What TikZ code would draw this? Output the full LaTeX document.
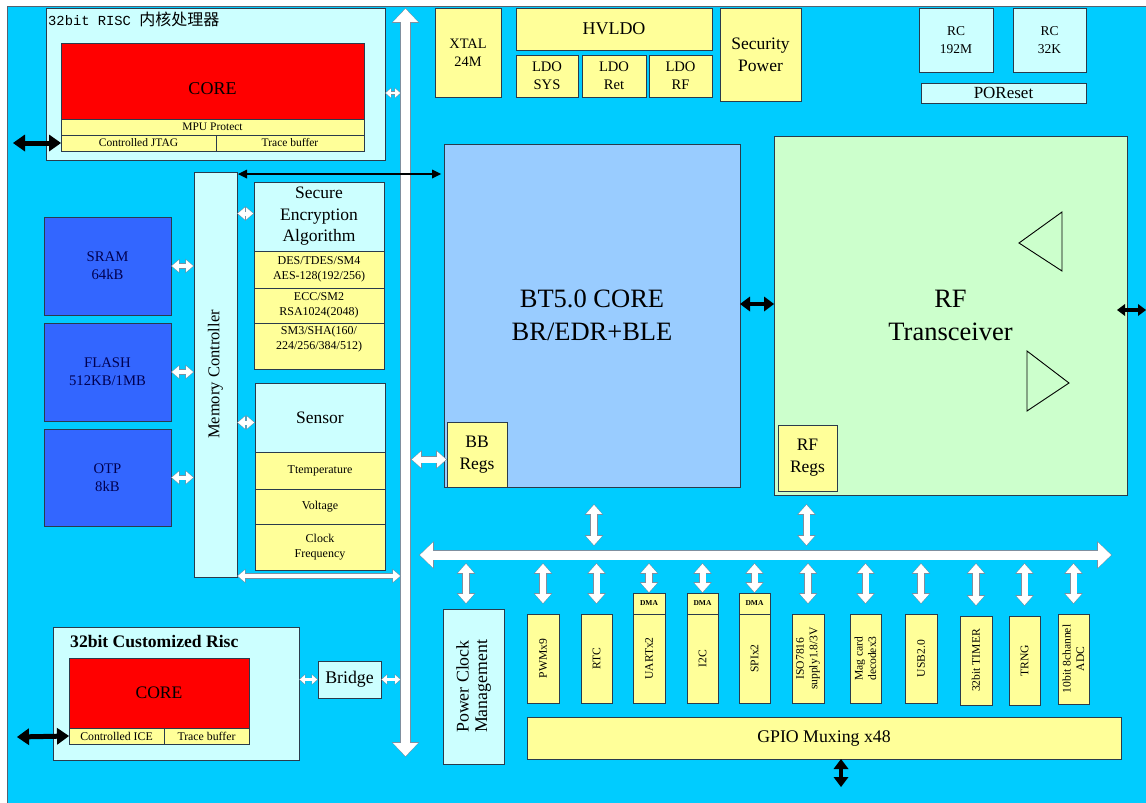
\documentclass[tikz,border=0pt]{standalone}
\usepackage{fontspec}
\setmainfont{Liberation Serif}
\newfontfamily\cjkf{Noto Sans CJK SC}
\newfontfamily\monof{Liberation Mono}
\usetikzlibrary{arrows.meta,calc}
\definecolor{bgc}{HTML}{00CCFF}
\definecolor{lcy}{HTML}{CCFFFF}
\definecolor{yel}{HTML}{FFFF99}
\definecolor{redc}{HTML}{FF0000}
\definecolor{memb}{HTML}{3366FF}
\definecolor{btb}{HTML}{99CCFF}
\definecolor{rfg}{HTML}{CCFFCC}
\definecolor{bord}{HTML}{2A3B4C}
\definecolor{outl}{HTML}{7F8F9F}
\definecolor{navy}{HTML}{000050}
\newcommand\fsz[2]{\rmfamily\fontsize{#1}{#2}\selectfont}
\newcommand\bx[7]{\node[#6, anchor=north west, minimum width={(#4-#2)*1pt}, minimum height={(#5-#3)*1pt}] (#1) at (#2,#3) {#7};}
\newcommand\warr[3]{\draw[#1o] #2 -- #3; \draw[#1] #2 -- #3;}
\newcommand\defwarrow[7]{\tikzset{#1/.style={line width=#2pt, draw=white, shorten <=0.9pt, shorten >=0.9pt, >={Triangle[width=#3pt,length=#4pt,line width=0pt]}, <->},
 #1o/.style={line width=#5pt, draw=outl, >={Triangle[width=#6pt,length=#7pt,line width=0pt]}, <->}}}
\defwarrow{wA}{9}{25}{13}{10.4}{27.4}{14.8}
\defwarrow{wB}{6}{16}{9}{7.4}{18.4}{10.8}
\defwarrow{wC}{4}{12}{7}{5.2}{14.2}{8.6}
\defwarrow{wD}{2.6}{9}{5}{3.6}{11}{6.4}
\tikzset{
 box/.style={draw=bord, line width=0.9pt, inner sep=0pt, outer sep=0pt, align=center, text=black},
 ybox/.style={box, fill=yel, font=\fsz{12}{14.5}},
 mem/.style={box, fill=memb, text=navy, font=\fsz{14.7}{18.3}},
 lab/.style={inner sep=0pt, align=center},
 bA/.style={draw=black, line width=5pt, >={Triangle[width=17pt,length=12pt,line width=0pt]}, <->},
 bB/.style={draw=black, line width=4.5pt, >={Triangle[width=15pt,length=10pt,line width=0pt]}, <->},
 bC/.style={draw=black, line width=3.5pt, >={Triangle[width=12pt,length=8pt,line width=0pt]}, <->},
 bD/.style={draw=black, line width=2.5pt, >={Triangle[width=9pt,length=9pt,line width=0pt]}, <->},
}
\begin{document}
\begin{tikzpicture}[x=1pt,y=-1pt]
\useasboundingbox (0,0) rectangle (1146,803);
\fill[white] (0,0) rectangle (1146,803);
\fill[bgc] (7,6) rectangle (1146,803);
\draw[bord!80, line width=0.8pt] (7,803) -- (7,6) -- (1146,6);

% ---------- top-left processor ----------
\bx{tl}{46}{8}{385}{160}{box,fill=lcy}{}
\node[anchor=base west, inner sep=0pt] (tlt) at (48,25) {\monof\fontsize{13.8}{16}\selectfont 32bit RISC \cjkf\fontsize{16}{18}\selectfont 内核处理器};
\bx{core1}{61}{43}{364}{119}{box,fill=redc,label={[lab,font=\fsz{18}{20},yshift=-8pt]center:CORE}}{}
\bx{mpu}{61}{119}{364}{135}{box,fill=yel,font=\fsz{11.5}{13}}{MPU Protect}
\bx{jtag}{61}{135}{216}{151}{box,fill=yel,font=\fsz{11.5}{13}}{Controlled JTAG}
\bx{trc1}{216}{135}{364}{151}{box,fill=yel,font=\fsz{11.5}{13}}{Trace buffer}

% ---------- memories ----------
\bx{sram}{44}{217}{171}{315}{mem}{SRAM\\64kB}
\bx{flash}{44}{323}{171}{421}{mem}{FLASH\\512KB/1MB}
\bx{otp}{44}{429}{171}{526}{mem}{OTP\\8kB}
\bx{mc}{194}{172}{237}{577}{box,fill=lcy,label={[lab,rotate=90,font=\fsz{16.5}{19}]center:Memory Controller}}{}

% ---------- security ----------
\bx{sec}{254}{182}{384}{251}{box,fill=lcy,font=\fsz{17.5}{21.5}}{Secure\\Encryption\\Algorithm}
\bx{des}{254}{251}{384}{288}{ybox}{DES/TDES/SM4\\AES-128(192/256)}
\bx{ecc}{254}{288}{384}{323}{ybox}{ECC/SM2\\RSA1024(2048)}
\bx{sm3}{254}{323}{384}{369}{box,fill=yel}{}
\node[lab, font=\fsz{12}{14.5}] (sm3t) at (319,339) {SM3/SHA(160/\\224/256/384/512)};

% ---------- sensor ----------
\bx{sen}{255}{383}{385}{452}{box,fill=lcy,font=\fsz{17.5}{20}}{Sensor}
\bx{tmp}{255}{452}{385}{489}{ybox}{Ttemperature}
\bx{vol}{255}{489}{385}{524}{ybox}{Voltage}
\bx{clk}{255}{524}{385}{570}{ybox}{Clock\\Frequency}

% ---------- top row ----------
\bx{xtal}{435}{8}{501}{97}{box,fill=yel,font=\fsz{14.4}{18}}{XTAL\\24M}
\bx{hvldo}{516}{8}{712}{50}{box,fill=yel,font=\fsz{18}{20}}{HVLDO}
\bx{ldosys}{516}{55}{578}{97}{box,fill=yel,font=\fsz{14.6}{18.3}}{LDO\\SYS}
\bx{ldoret}{582}{55}{646}{97}{box,fill=yel,font=\fsz{14.6}{18.3}}{LDO\\Ret}
\bx{ldorf}{649}{55}{712}{97}{box,fill=yel,font=\fsz{14.6}{18.3}}{LDO\\RF}
\bx{secpow}{720}{8}{801}{101}{box,fill=yel,font=\fsz{17.5}{21.7}}{Security\\Power}
\bx{rc192}{919}{8}{993}{72}{box,fill=lcy,font=\fsz{13.5}{18}}{RC\\192M}
\bx{rc32}{1013}{8}{1086}{72}{box,fill=lcy,font=\fsz{13.5}{18}}{RC\\32K}
\bx{por}{921}{83}{1086}{103}{box,fill=lcy,font=\fsz{17}{19}}{POReset}

% ---------- BT core & RF ----------
\bx{bt}{444}{144}{740}{487}{box,fill=btb,font=\fsz{26.5}{33}}{BT5.0 CORE\\BR/EDR+BLE}
\bx{bbr}{447}{422}{507}{487}{box,fill=yel,font=\fsz{17.5}{21.7}}{BB\\Regs}
\bx{rf}{774}{136}{1127}{495}{box,fill=rfg,font=\fsz{26.5}{33}}{RF\\Transceiver}
\bx{rfr}{778}{425}{837}{491}{box,fill=yel,font=\fsz{17.5}{21.7}}{RF\\Regs}
\draw[black, line width=0.9pt] (1062,212) -- (1019,243) -- (1062,271) -- cycle;
\draw[black, line width=0.9pt] (1027,351) -- (1069,383) -- (1027,411) -- cycle;

% ---------- peripherals ----------
\bx{pcm}{443}{609}{504}{764}{box,fill=lcy,label={[lab,rotate=90,font=\fsz{17.8}{18.5}]center:{Power Clock\\Management}}}{}
\tikzset{pv/.style={box,fill=yel,label={[lab,rotate=90,font=\fsz{11.6}{13.5}]center:{#1}}}}
\bx{pwm}{527}{614}{559}{703}{pv=PWMx9}{}
\bx{rtc}{581}{614}{612}{703}{pv=RTC}{}
\bx{uart}{633}{614}{665}{703}{pv=UARTx2}{}
\bx{i2c}{687}{614}{718}{703}{pv=I2C}{}
\bx{spi}{739}{614}{770}{703}{pv=SPIx2}{}
\bx{iso}{792}{614}{824}{703}{pv={ISO7816\\supply1.8/3V}}{}
\bx{mag}{850}{614}{881}{703}{pv={Mag card\\decodex3}}{}
\bx{usb}{905}{614}{937}{703}{pv=USB2.0}{}
\bx{tim}{960}{616}{992}{705}{pv=32bit TIMER}{}
\bx{trng}{1009}{616}{1040}{705}{pv=TRNG}{}
\bx{adc}{1058}{614}{1089}{704}{pv={10bit 8channel\\ADC}}{}
\bx{dma1}{633}{593}{665}{614}{box,fill=yel,font=\fsz{7.5}{8}\bfseries}{DMA}
\bx{dma2}{687}{593}{718}{614}{box,fill=yel,font=\fsz{7.5}{8}\bfseries}{DMA}
\bx{dma3}{739}{593}{770}{614}{box,fill=yel,font=\fsz{7.5}{8}\bfseries}{DMA}
\bx{gpio}{527}{717}{1121}{759}{box,fill=yel,font=\fsz{17.8}{20}}{GPIO Muxing x48}

% ---------- bottom-left risc ----------
\bx{cr}{53}{627}{299}{760}{box,fill=lcy}{}
\node[anchor=base west, inner sep=0pt, font=\fsz{17.6}{20}\bfseries] (crt) at (70,647) {32bit Customized Risc};
\bx{core2}{69}{658}{249}{728}{box,fill=redc,font=\fsz{17.6}{20}}{CORE}
\bx{ice}{69}{728}{164}{744}{box,fill=yel,font=\fsz{11.8}{13}}{Controlled ICE}
\bx{trc2}{164}{728}{249}{744}{box,fill=yel,font=\fsz{11.8}{13}}{Trace buffer}
\bx{brg}{318}{661}{381}{698}{box,fill=lcy,font=\fsz{17.8}{20}}{Bridge}

% ---------- coordinates ----------
\coordinate (busT) at (405.5,8);
\coordinate (busB) at (405.5,757);
\coordinate (busL) at (401,0);
\coordinate (busR) at (410,0);
\coordinate (y93) at (0,93);
\coordinate (y174) at (0,174);
\coordinate (y304) at (0,304);
\coordinate (y576) at (0,576);
\coordinate (hbL) at (419,555);
\coordinate (hbR) at (1112,555);
\coordinate (pbus) at (0,563);
\coordinate (jtagio) at (13,143);
\coordinate (iceio) at (17,737);
\coordinate (rfio) at (1146,310);
\coordinate (gio) at (841,787);

% ---------- white arrows ----------
\warr{wA}{(busT)}{(busB)}
\warr{wA}{(hbL)}{(hbR)}
\warr{wD}{(tl.east |- y93)}{(busL |- y93)}
\warr{wC}{(sram.east)}{(sram.east -| mc.west)}
\warr{wC}{(flash.east)}{(flash.east -| mc.west)}
\warr{wC}{(otp.east)}{(otp.east -| mc.west)}
\warr{wC}{($(mc.east |- sec.west)+(0,-3)$)}{($(sec.west)+(0,-3)$)}
\warr{wC}{($(mc.east |- sen.west)+(0,5)$)}{($(sen.west)+(0,5)$)}
\warr{wC}{(mc.east |- y576)}{(busL |- y576)}
\warr{wB}{($(busR |- bbr.west)+(1,5)$)}{($(bbr.west)+(0,5)$)}
\warr{wB}{($(bt.south)+(2,17)$)}{($(bt.south)+(2,59)$)}
\warr{wB}{($(rfr.south)+(-1,13)$)}{($(rfr.south)+(-1,55)$)}
\warr{wB}{($(pcm.north)+(-7.5,-46)$)}{($(pcm.north)+(-7.5,-5)$)}
\foreach \n in {pwm,rtc,iso,mag,usb,tim,trng,adc}{\warr{wB}{(\n.north |- pbus)}{($(\n.north)+(0,-10)$)}}
\foreach \n in {dma1,dma2,dma3}{\warr{wB}{(\n.north |- pbus)}{(\n.north)}}
\warr{wD}{(cr.east |- brg.west)}{(brg.west)}
\warr{wD}{(brg.east)}{(busL |- brg.west)}

% ---------- black arrows ----------
\draw[bA] (jtagio) -- (jtag.west);
\draw[bA] (iceio) -- (ice.west);
\draw[bD] ($(mc.east |- y174)+(1,0)$) -- ($(bt.west |- y174)+(-3,0)$);
\draw[bB] (bt.east |- y304) -- (rf.west |- y304);
\draw[bC] ($(rf.east |- rfio)+(-10,0)$) -- (rfio);
\draw[bB] (gio |- gpio.south) -- (gio);
\end{tikzpicture}
\end{document}
